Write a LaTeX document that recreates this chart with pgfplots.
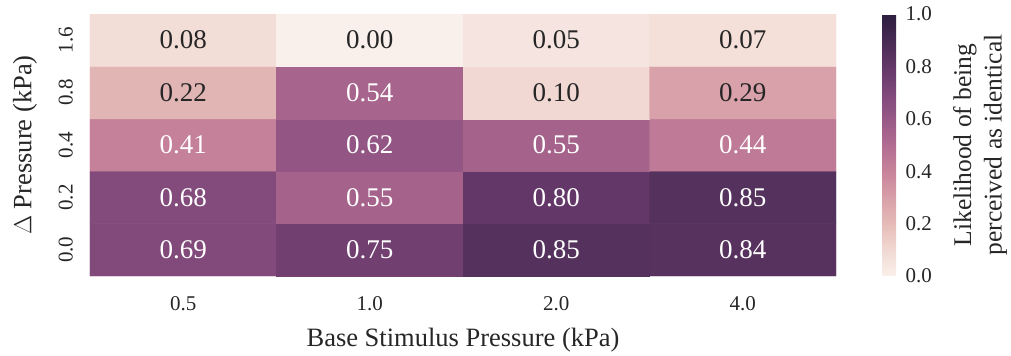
\documentclass[border=0pt]{standalone}
\usepackage{pgfplots}
\pgfplotsset{compat=1.18}
\usepackage{fontspec}
\setmainfont{Liberation Serif}
\definecolor{tc}{RGB}{38,38,38}
\newcommand{\annfont}{\fontsize{27bp}{32bp}\selectfont}
\newcommand{\tickfont}{\fontsize{21bp}{25bp}\selectfont}
\newcommand{\labfont}{\fontsize{26.5bp}{30bp}\selectfont}
\newcommand{\cblabfont}{\fontsize{25.5bp}{30.5bp}\selectfont}
\pgfplotsset{
  /pgf/number format/assume math mode=true,
  colormap={ch}{
    rgb255(0)=(250,240,235)
    rgb255(0.1)=(241,216,210)
    rgb255(0.2)=(229,187,184)
    rgb255(0.3)=(216,159,168)
    rgb255(0.4)=(200,131,155)
    rgb255(0.5)=(177,108,145)
    rgb255(0.6)=(152,89,135)
    rgb255(0.7)=(126,72,121)
    rgb255(0.8)=(99,56,104)
    rgb255(0.9)=(71,42,82)
    rgb255(1)=(45,30,62)
  }
}
\begin{document}
\begin{tikzpicture}
\begin{axis}[
  name=main,
  scale only axis,
  width=746bp, height=262bp,
  xmin=-0.5, xmax=3.5, ymin=-0.5, ymax=4.5,
  enlargelimits=false,
  axis line style={draw=none},
  major tick length=0pt,
  tick style={draw=none},
  xtick={0,1,2,3},
  xticklabels={0.5,1.0,2.0,4.0},
  ytick={0,1,2,3,4},
  yticklabels={0.0,0.2,0.4,0.8,1.6},
  xticklabel style={font=\tickfont, text=tc, anchor=north, inner sep=0pt, yshift=-20bp},
  yticklabel style={font=\tickfont, text=tc, rotate=90, anchor=south, inner xsep=0pt, inner ysep=17bp},
  xlabel={Base Stimulus Pressure (kPa)},
  ylabel={$\Delta$ Pressure (kPa)},
  every axis x label/.style={at={(axis description cs:0.5,-0.245)}, anchor=center, inner sep=0pt, font=\labfont, text=tc},
  every axis y label/.style={at={(axis description cs:-0.087,0.5)}, anchor=center, inner sep=0pt, rotate=90, font=\labfont, text=tc},
  colormap name=ch,
  point meta min=0, point meta max=1,
  colorbar,
  colorbar style={
    at={(parent axis.north east)}, anchor=north west, xshift=37.5bp,
    width=14bp,
    axis line style={draw=none},
    major tick length=0pt,
    ytick={0,0.2,0.4,0.6,0.8,1.0},
    yticklabel style={font=\tickfont, text=tc, xshift=6bp, inner ysep=0pt, /pgf/number format/.cd, fixed, fixed zerofill, precision=1, assume math mode=true},
    yticklabel pos=right,
    ylabel={Likelihood of being\\perceived as identical},
    every axis y label/.style={at={(axis description cs:7.0,0.5)}, anchor=center, inner sep=0pt, rotate=90, align=center, font=\cblabfont, text=tc},
  },
]
\addplot[matrix plot*, draw=none, mesh/cols=4, point meta=explicit] table[meta=z] {
x y z
0 0 0.69
1 0 0.75
2 0 0.85
3 0 0.84
0 1 0.68
1 1 0.55
2 1 0.80
3 1 0.85
0 2 0.41
1 2 0.62
2 2 0.55
3 2 0.44
0 3 0.22
1 3 0.54
2 3 0.10
3 3 0.29
0 4 0.08
1 4 0.00
2 4 0.05
3 4 0.07
};
\addplot[draw=none, mark=none, nodes near coords, nodes near coords align={center}, point meta=explicit symbolic,
  nodes near coords style={anchor=center, font=\annfont, text=white}] table[meta=t] {
x y t
0 0 0.69
1 0 0.75
2 0 0.85
3 0 0.84
0 1 0.68
1 1 0.55
2 1 0.80
3 1 0.85
0 2 0.41
1 2 0.62
2 2 0.55
3 2 0.44
1 3 0.54
};
\addplot[draw=none, mark=none, nodes near coords, nodes near coords align={center}, point meta=explicit symbolic,
  nodes near coords style={anchor=center, font=\annfont, text=tc}] table[meta=t] {
x y t
0 3 0.22
2 3 0.10
3 3 0.29
0 4 0.08
1 4 0.00
2 4 0.05
3 4 0.07
};
\end{axis}
\pgfresetboundingbox
\useasboundingbox (main.south west) ++(-90bp,-80bp) rectangle ++(1011bp,356bp);
\end{tikzpicture}
\end{document}
